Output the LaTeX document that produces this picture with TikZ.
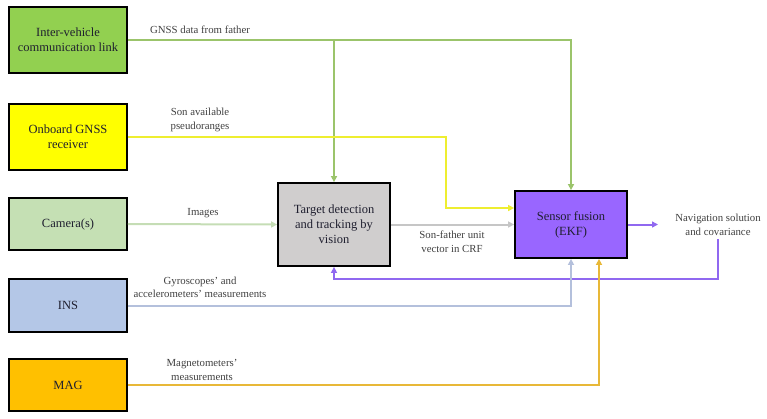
\documentclass[tikz,border=0pt]{standalone}
\usepackage{fontspec}
\setmainfont{Liberation Serif}
\usetikzlibrary{arrows.meta}
\definecolor{cInter}{HTML}{92D050}
\definecolor{cGnss}{HTML}{FFFF00}
\definecolor{cCam}{HTML}{C5E0B4}
\definecolor{cIns}{HTML}{B4C7E7}
\definecolor{cMag}{HTML}{FFC000}
\definecolor{cTgt}{HTML}{D0CECE}
\definecolor{cFus}{HTML}{9966FF}
\definecolor{lGreen}{HTML}{9BC46B}
\definecolor{lYellow}{HTML}{EEEE30}
\definecolor{lCam}{HTML}{C5DDB5}
\definecolor{lGray}{HTML}{C6C6C6}
\definecolor{lPurple}{HTML}{9068F0}
\definecolor{lIns}{HTML}{B4C0DC}
\definecolor{lMag}{HTML}{E8B838}
\definecolor{txtBox}{HTML}{1F1F2F}
\definecolor{txtLbl}{HTML}{404040}
\tikzset{
  box/.style={draw=black, line width=1.8pt, minimum width=118pt, align=center,
    font=\fontsize{12.5}{15}\selectfont, text=txtBox, inner sep=2pt},
  lbl/.style={align=center, font=\fontsize{10.8}{13.5}\selectfont, text=txtLbl, inner sep=1pt},
  conn/.style={line width=2pt},
  arr/.style={conn, -{Triangle[length=6pt,width=6pt]}},
}
\begin{document}
\begin{tikzpicture}[x=1pt,y=-1pt]
\useasboundingbox (0,0) rectangle (767,418);
% boxes
\node[box, fill=cInter, minimum height=66pt] (inter) at (68,40) {Inter-vehicle\\communication link};
\node[box, fill=cGnss, minimum height=66pt] (gnss) at (68,137) {Onboard GNSS\\receiver};
\node[box, fill=cCam, minimum height=52pt] (cam) at (68,224) {Camera(s)};
\node[box, fill=cIns, minimum height=53pt] (ins) at (68,305.5) {INS};
\node[box, fill=cMag, minimum height=52pt] (mag) at (68,385) {MAG};
\node[box, fill=cTgt, minimum width=112pt, minimum height=83pt] (tgt) at (334,224.5) {Target detection\\and tracking by\\vision};
\node[box, fill=cFus, minimum width=112pt, minimum height=67pt] (fus) at (571,224.5) {Sensor fusion\\(EKF)};
\node[lbl] (nav) at (718,225) {Navigation solution\\and covariance};
% coordinates
\coordinate (gbranch) at (334,40);
\coordinate (ybend) at (446,137);
\coordinate (fb) at (718,279);
% connectors
\draw[arr, lGreen] (inter.east) -| (fus.north);
\draw[arr, lGreen] (gbranch) -- (tgt.north);
\draw[arr, lYellow] (gnss.east) -- (ybend) |- ([yshift=16.5pt]fus.west);
\draw[arr, lCam] (cam.east) -- (tgt.west);
\draw[arr, lGray] (tgt.east) -- (fus.west);
\draw[arr, lPurple] (fus.east) -- (658,224.5);
\draw[arr, lPurple] ([yshift=-2pt]nav.south) -- (fb) -| (tgt.south);
\draw[arr, lIns] (ins.east) -| (fus.south);
\draw[arr, lMag] (mag.east) -| ([xshift=28pt]fus.south);
% labels
\node[lbl] (l1) at (200,30) {GNSS data from father};
\node[lbl] (l2) at (200,120) {Son available\\pseudoranges};
\node[lbl] (l3) at (203,213) {Images};
\node[lbl] (l4) at (452,241.5) {Son-father unit\\vector in CRF};
\node[lbl] (l5) at (200,287.5) {Gyroscopes' and\\accelerometers' measurements};
\node[lbl] (l6) at (202,370) {Magnetometers'\\measurements};
\end{tikzpicture}
\end{document}
